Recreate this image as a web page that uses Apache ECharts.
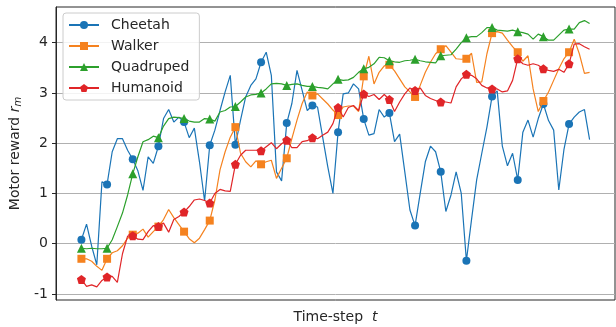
<!DOCTYPE html>
<html>
<head>
<meta charset="utf-8">
<script src="https://cdn.jsdelivr.net/npm/echarts@6/dist/echarts.min.js"></script>
<style>
  html, body { margin: 0; padding: 0; background: #fff; }
  #chart { width: 616px; height: 327px; }
</style>
</head>
<body>
<div id="chart"></div>
<script>
// Motor reward per time-step for four agents (markers every 5th step)
const seriesNames = ['Cheetah', 'Walker', 'Quadruped', 'Humanoid'];

const cheetah = [
  0.08, 0.39, -0.05, -0.42, 1.23, 1.18, 1.83, 2.09, 2.09, 1.86,
  1.68, 1.45, 1.06, 1.73, 1.60, 1.94, 2.49, 2.67, 2.42, 2.52,
  2.42, 2.11, 2.30, 1.63, 0.85, 1.96, 2.26, 2.65, 3.02, 3.35,
  1.97, 2.46, 2.92, 3.15, 3.28, 3.61, 3.81, 3.35, 1.43, 1.25,
  2.40, 2.79, 3.45, 3.05, 2.65, 2.75, 2.72, 2.12, 1.53, 1.00,
  2.22, 2.98, 3.00, 3.18, 3.08, 2.48, 2.16, 2.19, 2.67, 2.52,
  2.60, 2.03, 2.18, 1.43, 0.67, 0.36, 1.00, 1.63, 1.94, 1.83,
  1.43, 0.64, 0.97, 1.43, 1.00, -0.34, 0.48, 1.27, 1.80, 2.32,
  2.93, 3.04, 1.94, 1.55, 1.80, 1.27, 2.22, 2.46, 2.12, 2.49,
  2.78, 2.45, 2.26, 1.07, 1.87, 2.38, 2.52, 2.62, 2.67, 2.07
];

const walker = [
  -0.30, -0.30, -0.35, -0.45, -0.53, -0.30, -0.18, -0.14, -0.04, 0.11,
  0.18, 0.21, 0.29, 0.13, 0.24, 0.34, 0.48, 0.68, 0.52, 0.38,
  0.24, 0.10, 0.02, 0.11, 0.28, 0.46, 0.87, 1.47, 1.83, 2.12,
  2.32, 1.80, 1.63, 1.53, 1.65, 1.58, 1.63, 1.66, 1.30, 1.50,
  1.70, 2.09, 2.46, 2.79, 3.02, 2.95, 2.98, 2.88, 2.78, 2.66,
  2.56, 2.72, 2.74, 2.74, 2.63, 3.33, 3.73, 3.18, 3.41, 3.54,
  3.56, 3.44, 3.28, 3.12, 3.02, 2.92, 3.15, 3.41, 3.61, 3.78,
  3.87, 3.94, 3.81, 3.68, 3.67, 3.68, 3.79, 3.21, 3.22, 3.78,
  4.19, 4.22, 4.19, 4.05, 3.92, 3.81, 3.63, 3.74, 3.08, 2.63,
  2.84, 3.02, 3.25, 3.48, 3.68, 3.81, 4.07, 3.78, 3.39, 3.41
];

const quadruped = [
  -0.09, -0.10, -0.09, -0.10, -0.10, -0.09, 0.08, 0.34, 0.61, 0.97,
  1.39, 1.73, 2.03, 2.07, 2.14, 2.11, 2.34, 2.49, 2.52, 2.51,
  2.49, 2.44, 2.42, 2.42, 2.49, 2.48, 2.44, 2.62, 2.65, 2.72,
  2.73, 2.82, 2.92, 2.96, 2.97, 3.00, 3.08, 3.18, 3.19, 3.18,
  3.15, 3.17, 3.18, 3.15, 3.13, 3.13, 3.11, 3.10, 3.08, 3.18,
  3.27, 3.25, 3.26, 3.31, 3.41, 3.48, 3.51, 3.58, 3.71, 3.70,
  3.64, 3.62, 3.61, 3.64, 3.65, 3.67, 3.64, 3.62, 3.61, 3.60,
  3.74, 3.75, 3.76, 3.87, 4.00, 4.10, 4.12, 4.12, 4.20, 4.30,
  4.30, 4.25, 4.24, 4.23, 4.25, 4.22, 4.20, 4.17, 4.07, 4.17,
  4.12, 4.05, 4.05, 4.15, 4.25, 4.27, 4.27, 4.40, 4.44, 4.38
];

const humanoid = [
  -0.71, -0.85, -0.82, -0.86, -0.73, -0.66, -0.65, -0.77, -0.20, 0.15,
  0.16, 0.09, 0.08, 0.24, 0.36, 0.34, 0.41, 0.23, 0.48, 0.54,
  0.63, 0.74, 0.87, 0.89, 0.86, 0.81, 1.00, 1.08, 1.05, 1.04,
  1.58, 1.76, 1.86, 1.86, 1.86, 1.85, 1.93, 2.01, 1.89, 1.99,
  2.06, 1.91, 1.91, 2.03, 2.05, 2.11, 2.09, 2.16, 2.22, 2.39,
  2.71, 2.52, 2.71, 2.75, 2.65, 2.98, 2.93, 2.97, 2.87, 2.97,
  2.87, 2.63, 2.82, 2.98, 3.10, 3.05, 3.10, 2.95, 2.89, 2.85,
  2.82, 2.82, 2.80, 3.12, 3.28, 3.37, 3.35, 3.28, 3.15, 3.10,
  3.08, 3.08, 3.02, 3.04, 3.25, 3.68, 3.58, 3.55, 3.58, 3.55,
  3.48, 3.45, 3.43, 3.47, 3.41, 3.58, 3.97, 3.98, 3.92, 3.87
];

const yTicks = [-1, 0, 1, 2, 3, 4];
const markEvery = 5;

const colors = ['#1a74b6', '#f5821f', '#2ca02c', '#e02528'];
const symbols = [
  'circle',
  'rect',
  'triangle',
  'path://M0,-10 L9.51,-3.09 L5.88,8.09 L-5.88,8.09 L-9.51,-3.09 Z'
];
const symbolSizes = [8, 8, 9, 9];
const values = [cheetah, walker, quadruped, humanoid];

const FONT = 'DejaVu Sans, sans-serif';

const series = values.map((vals, k) => ({
  name: seriesNames[k],
  type: 'line',
  data: vals.map((v, i) => [i, v]),
  color: colors[k],
  symbol: symbols[k],
  showAllSymbol: true,
  symbolSize: (val, params) => (params.dataIndex % markEvery === 0 ? symbolSizes[k] : 0),
  lineStyle: { width: 1.2, color: colors[k] },
  itemStyle: { color: colors[k] },
  emphasis: { disabled: true },
  animation: false,
  z: 2 + k
}));

const chart = echarts.init(document.getElementById('chart'), null, { renderer: 'canvas' });
chart.setOption({
  animation: false,
  backgroundColor: '#ffffff',
  textStyle: { fontFamily: FONT },
  grid: {
    left: 56, right: 1, top: 7, bottom: 27,
    outerBoundsMode: 'none',
    containLabel: false,
    show: true, borderColor: '#262626', borderWidth: 1,
    backgroundColor: 'transparent'
  },
  legend: {
    orient: 'vertical',
    left: 63, top: 13,
    data: seriesNames,
    itemWidth: 30, itemHeight: 10, itemGap: 7,
    padding: [5, 10, 5, 5],
    backgroundColor: 'rgba(255,255,255,0.85)',
    borderColor: '#cccccc', borderWidth: 1, borderRadius: 3,
    textStyle: { fontFamily: FONT, fontSize: 14, color: '#262626', lineHeight: 14, padding: [0, 0, 0, 7] }
  },
  xAxis: {
    type: 'value',
    min: -4.95, max: 103.95,
    axisLine: { show: false, onZero: false },
    axisTick: { show: false },
    axisLabel: { show: false },
    splitLine: { show: false },
    name: '{a|Time-step  }{i|t}',
    nameLocation: 'middle',
    nameGap: 10,
    nameTextStyle: {
      rich: {
        a: { fontFamily: FONT, fontSize: 14, color: '#262626' },
        i: { fontFamily: FONT, fontSize: 14, fontStyle: 'italic', color: '#262626' }
      }
    }
  },
  yAxis: {
    type: 'value',
    min: -1.12, max: 4.71,
    axisLine: { show: true, onZero: false, lineStyle: { color: '#262626', width: 1 } },
    axisTick: { show: true, inside: false, length: 4, lineStyle: { color: '#262626' }, customValues: yTicks },
    axisLabel: { fontFamily: FONT, fontSize: 14, color: '#262626', margin: 8, customValues: yTicks },
    splitLine: { show: true, lineStyle: { color: '#b0b0b0', width: 1 } },
    name: '{a|Motor reward }{i|r}{s|m}',
    nameLocation: 'middle',
    nameRotate: 90,
    nameGap: 25,
    nameTextStyle: {
      rich: {
        a: { fontFamily: FONT, fontSize: 14, color: '#262626' },
        i: { fontFamily: FONT, fontSize: 14, fontStyle: 'italic', color: '#262626' },
        s: { fontFamily: FONT, fontSize: 10, fontStyle: 'italic', color: '#262626', padding: [6, 0, 0, 0] }
      }
    }
  },
  series: series
});
</script>
</body>
</html>
